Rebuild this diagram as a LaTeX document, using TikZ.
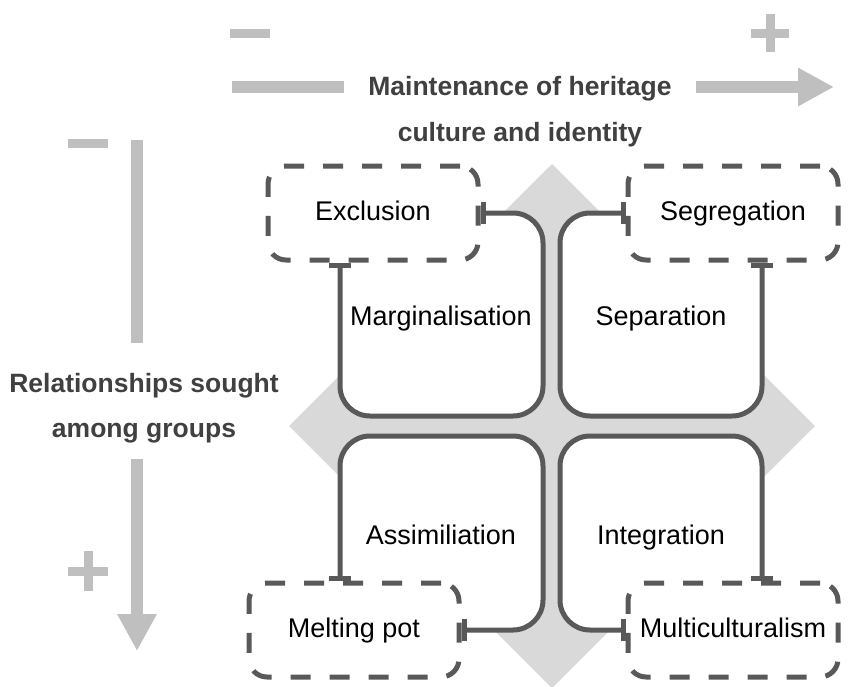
\documentclass[tikz,border=0pt]{standalone}
\usepackage{fontspec}
\setmainfont{Liberation Sans}
\usepackage{tikz}
\usetikzlibrary{arrows.meta,backgrounds}

\definecolor{linegray}{HTML}{595959}
\definecolor{diamondgray}{HTML}{D9D9D9}
\definecolor{axisgray}{HTML}{BFBFBF}
\definecolor{titlegray}{HTML}{404040}

\begin{document}
\begin{tikzpicture}[x=1pt, y=-1pt,
    every node/.style={font=\fontsize{27}{46}\selectfont},
    tag/.style={text height=19.7pt, text depth=5.7pt},
    title/.style={text=titlegray, font=\fontsize{26.5}{46}\selectfont\bfseries, align=center},
    outcome/.style={tag, draw=linegray, line width=5pt, dash pattern=on 20pt off 19pt,
        rounded corners=18pt, fill=white, minimum width=210pt, minimum height=94pt},
    quadrant/.style={draw=linegray, fill=white, line width=5pt, rounded corners=30pt,
        {Bar[width=22pt]}-{Bar[width=22pt]}},
    axis/.style={draw=axisgray, line width=12pt},
    sign/.style={draw=axisgray, line width=9pt}]

    \useasboundingbox (0,0) rectangle (849,686);

    % axes
    \draw[sign] (230,33) -- (270,33);
    \draw[sign] (751,33) -- (789,33);
    \draw[sign] (770,14) -- (770,52);
    \draw[axis] (232,87) -- (344,87);
    \draw[axis, -{Triangle[length=36pt, width=36pt]}] (696,87) -- (834,87);
    \node[title] (heritage) at (520,112) {Maintenance of heritage\\culture and identity};

    \draw[sign] (68,143) -- (108,143);
    \draw[sign] (68,571) -- (108,571);
    \draw[sign] (88,551) -- (88,591);
    \draw[axis] (137,140) -- (137,343);
    \draw[axis, -{Triangle[length=37pt, width=37pt]}] (137,459) -- (137,651);
    \node[title, font=\fontsize{26.5}{45}\selectfont\bfseries] (relations) at (144,408) {Relationships sought\\among groups};

    % outcomes
    \node[outcome] (exclusion) at (373,213) {Exclusion};
    \node[outcome] (segregation) at (733,213) {Segregation};
    \node[outcome] (meltingpot) at (354,630) {Melting pot};
    \node[outcome] (multiculturalism) at (733,630) {Multiculturalism};

    \node[tag] (marginalisation) at (441,318) {Marginalisation};
    \node[tag] (separation) at (661,318) {Separation};
    \node[tag] (assimiliation) at (441,537) {Assimiliation};
    \node[tag] (integration) at (661,537) {Integration};

    \begin{scope}[on background layer]
        \fill[diamondgray] (552,164) -- (815,426) -- (552,688) -- (289,426) -- cycle;
        \draw[quadrant] (exclusion.east) -| (543,416) -| ([xshift=-33pt]exclusion.south);
        \draw[quadrant] (segregation.west) -| (560,416) -| ([xshift=29pt]segregation.south);
        \draw[quadrant] (meltingpot.east) -| (543,436) -| ([xshift=-14pt]meltingpot.north);
        \draw[quadrant] (multiculturalism.west) -| (560,436) -| ([xshift=29pt]multiculturalism.north);
    \end{scope}

\end{tikzpicture}
\end{document}
